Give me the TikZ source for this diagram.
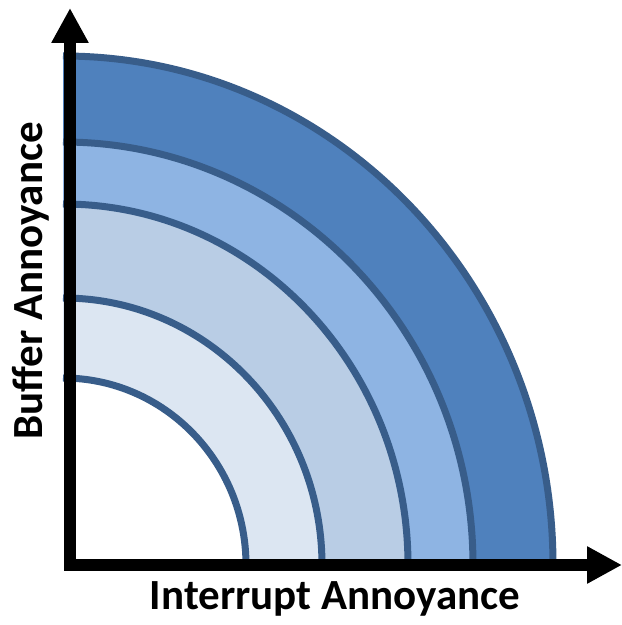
\documentclass[tikz,border=0pt]{standalone}
\usepackage{fontspec}
\setmainfont{Carlito}
\usetikzlibrary{arrows.meta}
\definecolor{edgeblue}{HTML}{385D8A}
\definecolor{ringA}{HTML}{4F81BD}
\definecolor{ringB}{HTML}{8EB4E3}
\definecolor{ringC}{HTML}{B9CDE5}
\definecolor{ringD}{HTML}{DCE6F2}
\tikzset{
  ringline/.style={draw=edgeblue, line width=7pt},
  axisline/.style={draw=black, line width=12pt, line join=miter,
    {Triangle[width=35pt,length=35pt]}-{Triangle[width=35pt,length=35pt]}},
  lbl/.style={font=\fontsize{43}{50}\selectfont\bfseries, inner sep=0pt, text=black}
}
\begin{document}
\begin{tikzpicture}[x=1pt,y=1pt]
\useasboundingbox (0,0) rectangle (622,625);
\coordinate (O) at (63,60);
% filled sectors, largest first
\foreach \rx/\ry/\col in {490/509/ringA, 410/423/ringB, 345/361/ringC, 259/267/ringD, 183/187/white}{
  \fill[\col] (O) -- ++(\rx,0) arc[start angle=0, end angle=90, x radius=\rx, y radius=\ry] -- cycle;
}
% ring outlines
\foreach \rx/\ry in {490/509, 410/423, 345/361, 259/267, 183/187}{
  \draw[ringline] (O) ++(\rx,0) arc[start angle=0, end angle=90, x radius=\rx, y radius=\ry];
}
% axes
\coordinate (ytip) at (70,617);
\coordinate (corner) at (70,60);
\coordinate (xtip) at (622,60);
\draw[axisline] (ytip) -- (corner) -- (xtip);
% labels
\node[lbl, anchor=base] (xlabel) at (335,16) {Interrupt Annoyance};
\node[lbl, anchor=base, rotate=90] (ylabel) at (42,344) {Buffer Annoyance};
\end{tikzpicture}
\end{document}
